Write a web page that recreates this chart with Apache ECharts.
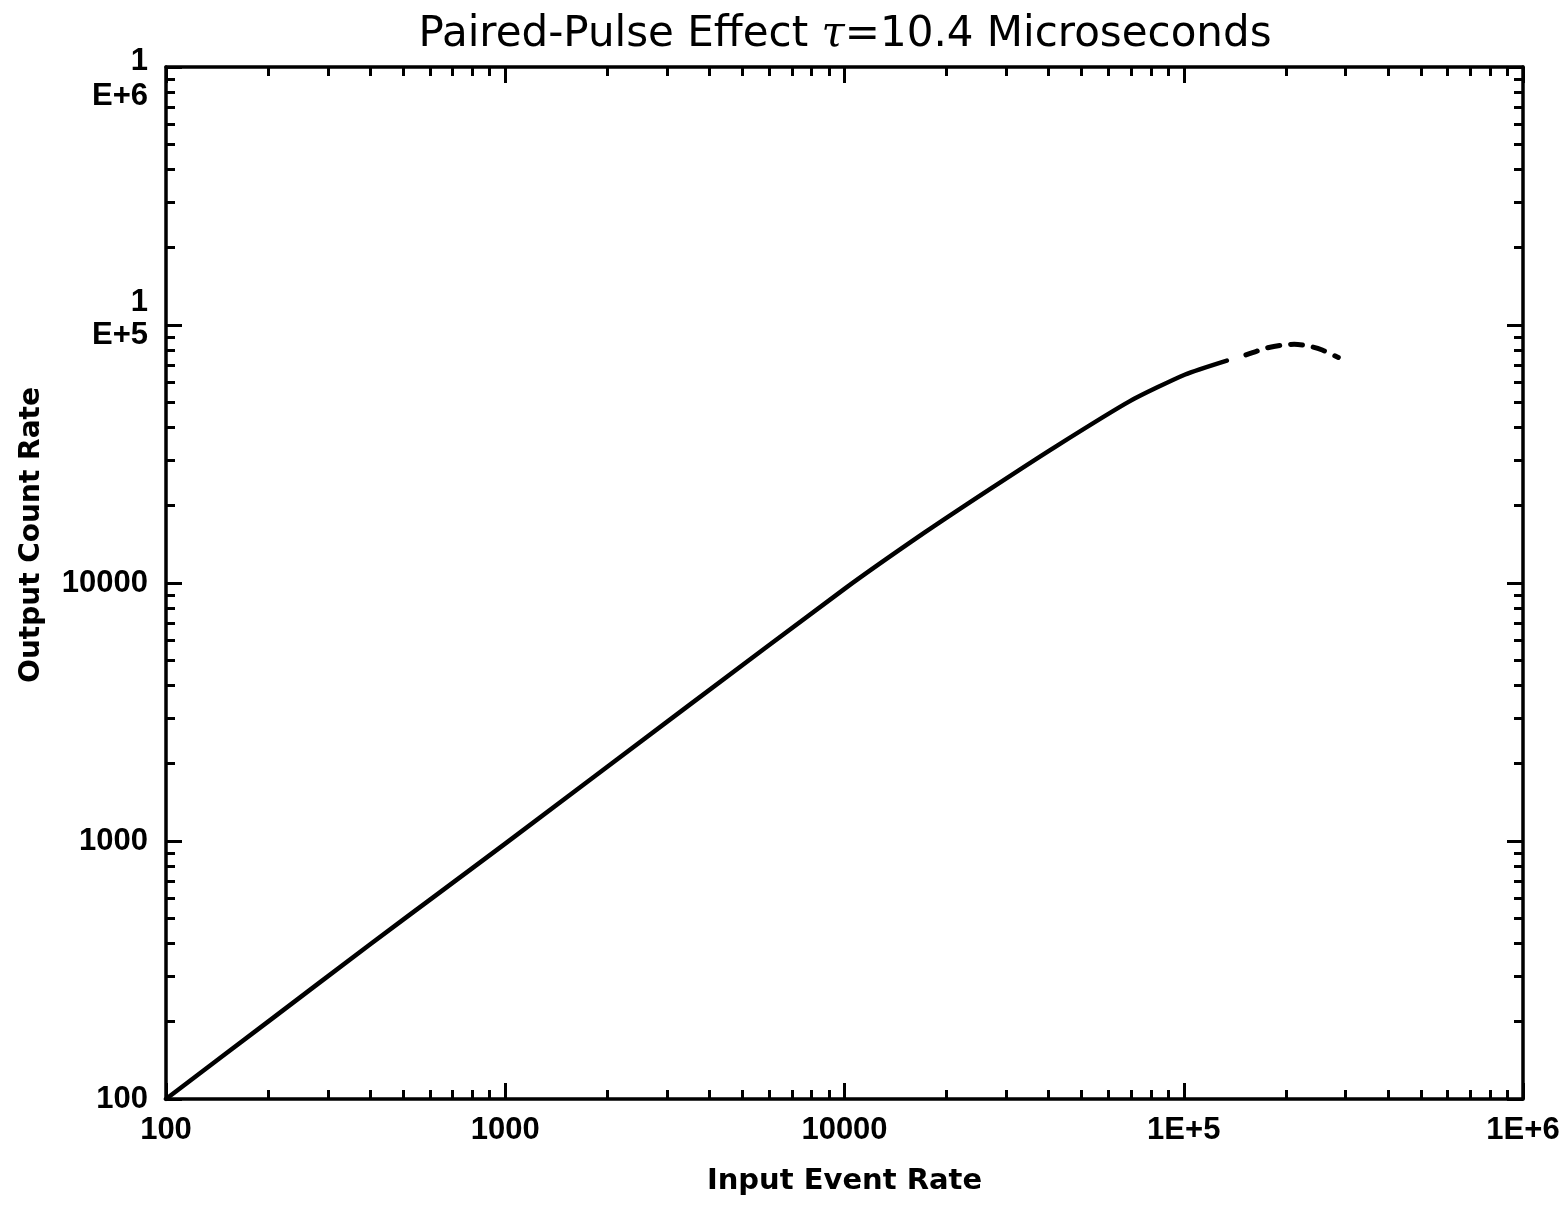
<!DOCTYPE html>
<html><head><meta charset="utf-8">
<script src="https://cdn.jsdelivr.net/npm/echarts@6/dist/echarts.min.js"></script>
<style>html,body{margin:0;padding:0;background:#fff}#c{width:1567px;height:1210px}</style>
</head><body><div id="c"></div>
<script>
// Solid part of the curve
const inputRate  = [100, 200, 400, 640, 1000, 3430, 10000, 17200, 26900, 41700, 69400, 101000, 134000];
const outputRate = [100, 199.5, 398, 631, 977, 3310, 9490, 15670, 23170, 33650, 50700, 64300, 72800];
// Dashed part of the curve
const inputRateHigh  = [152500, 164400, 176000, 195000, 211600, 237700, 256000, 285500];
const outputRateHigh = [76560, 79250, 81470, 83560, 84140, 82410, 79980, 74820];

const xTickValues = [100, 1000, 10000, 100000, 1000000];
const xTickLabels = ['100', '1000', '10000', '1E+5', '1E+6'];
const yTickValues = [100, 1000, 10000, 100000, 1000000];
const yTickLabels = ['100', '1000', '10000', '{e5|1\nE+5}', '{e6|1\nE+6}'];
const decades = [100, 1000, 10000, 100000];
const minorMultipliers = [2, 3, 4, 5, 6, 7, 8, 9];

const minorTicks = [];
decades.forEach(d => minorMultipliers.forEach(m => minorTicks.push(d * m)));

function labelFor(values, labels) {
  return v => {
    for (let i = 0; i < values.length; i++) {
      if (Math.abs(Math.log10(v) - Math.log10(values[i])) < 1e-6) return labels[i];
    }
    return '';
  };
}

const NUMFONT = '"Liberation Sans", Arial, sans-serif';
const TXTFONT = '"DejaVu Sans", sans-serif';
const NUMSIZE = 31;
const grid = {left: 166, right: 44, top: 67, bottom: 111};

function baseAxis(extra) {
  return Object.assign({
    type: 'log', logBase: 10, min: 100, max: 1000000,
    splitLine: {show: false},
    axisLine: {show: true, onZero: false, lineStyle: {color: '#000', width: 3.5}},
  }, extra);
}

const majorTick = {show: true, inside: true, length: 16, lineStyle: {color: '#000', width: 3}};
const minorTick = {show: true, inside: true, length: 9, customValues: minorTicks, lineStyle: {color: '#000', width: 3}};

const option = {
  backgroundColor: '#fff',
  animation: false,
  title: {
    text: 'Paired-Pulse Effect {t|τ}=10.4 Microseconds',
    left: 840, top: 9, textAlign: 'center',
    textStyle: {
      fontFamily: TXTFONT, fontSize: 42, fontWeight: 'normal', color: '#000',
      rich: {t: {fontFamily: '"DejaVu Serif", serif', fontStyle: 'italic', fontSize: 42, color: '#000'}}
    }
  },
  grid: [Object.assign({}, grid), Object.assign({}, grid)],
  xAxis: [
    baseAxis({
      gridIndex: 0, position: 'bottom',
      axisTick: majorTick,
      axisLabel: {show: true, margin: 16, fontFamily: NUMFONT, fontSize: NUMSIZE, fontWeight: 'bold', color: '#000',
        formatter: labelFor(xTickValues, xTickLabels)},
      name: 'Input Event Rate', nameLocation: 'middle', nameGap: 68,
      nameTextStyle: {fontFamily: TXTFONT, fontSize: 29, fontWeight: 'bold', color: '#000'}
    }),
    baseAxis({gridIndex: 0, position: 'top', axisTick: majorTick, axisLabel: {show: false}}),
    baseAxis({gridIndex: 1, position: 'bottom', axisLine: {show: false}, axisTick: minorTick, axisLabel: {show: false}}),
    baseAxis({gridIndex: 1, position: 'top', axisLine: {show: false}, axisTick: minorTick, axisLabel: {show: false}})
  ],
  yAxis: [
    baseAxis({
      gridIndex: 0, position: 'left',
      axisTick: majorTick,
      axisLabel: {show: true, margin: 18, fontFamily: NUMFONT, fontSize: NUMSIZE, fontWeight: 'bold', color: '#000',
        lineHeight: 34, align: 'right',
        rich: {
          e5: {fontFamily: NUMFONT, fontSize: NUMSIZE, fontWeight: 'bold', color: '#000', lineHeight: 33, align: 'right', padding: [0, 0, 12, 0]},
          e6: {fontFamily: NUMFONT, fontSize: NUMSIZE, fontWeight: 'bold', color: '#000', lineHeight: 35, align: 'right', padding: [24, 0, 0, 0]}
        },
        formatter: labelFor(yTickValues, yTickLabels)},
      name: 'Output Count Rate', nameLocation: 'middle', nameGap: 120,
      nameTextStyle: {fontFamily: TXTFONT, fontSize: 28, fontWeight: 'bold', color: '#000', padding: [0, 0, 0, 96]}
    }),
    baseAxis({gridIndex: 0, position: 'right', axisTick: majorTick, axisLabel: {show: false}}),
    baseAxis({gridIndex: 1, position: 'left', axisLine: {show: false}, axisTick: minorTick, axisLabel: {show: false}}),
    baseAxis({gridIndex: 1, position: 'right', axisLine: {show: false}, axisTick: minorTick, axisLabel: {show: false}})
  ],
  series: [
    {
      type: 'line', xAxisIndex: 0, yAxisIndex: 0, showSymbol: false, smooth: 0.2,
      data: inputRate.map((x, i) => [x, outputRate[i]]),
      lineStyle: {color: '#000', width: 4.5, cap: 'round', join: 'round'}
    },
    {
      type: 'line', xAxisIndex: 0, yAxisIndex: 0, showSymbol: false, smooth: 0.3,
      data: inputRateHigh.map((x, i) => [x, outputRateHigh[i]]),
      lineStyle: {color: '#000', width: 5, type: [12, 11], cap: 'round', join: 'round'}
    }
  ]
};

const chart = echarts.init(document.getElementById('c'), null, {renderer: 'canvas'});
chart.setOption(option);
</script>
</body></html>
